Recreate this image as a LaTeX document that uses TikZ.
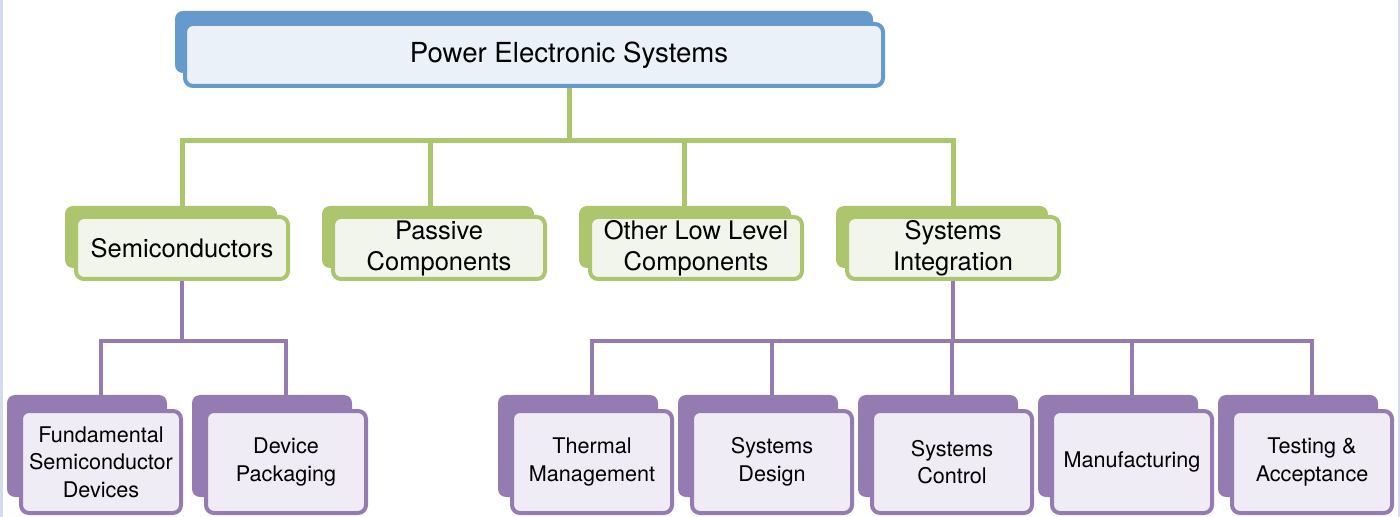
\documentclass[tikz,border=0pt]{standalone}
\usepackage{fontspec}
\setmainfont{TeX Gyre Heros}
\usetikzlibrary{positioning,shadows}
\definecolor{topblue}{RGB}{102,153,204}
\definecolor{topfill}{RGB}{234,241,248}
\definecolor{leafgreen}{RGB}{172,198,110}
\definecolor{greenfill}{RGB}{242,245,236}
\definecolor{lilac}{RGB}{148,124,178}
\definecolor{lilacfill}{RGB}{239,236,245}
\definecolor{edgeblue}{RGB}{212,218,240}
\begin{document}
\begin{tikzpicture}[
  x=0.5pt, y=-0.5pt,
  box/.style={draw, line width=2pt, rounded corners=4pt, align=center,
    inner sep=1pt},
  rootbox/.style={box, draw=topblue, fill=topfill,
    minimum width=349pt, minimum height=31pt,
    font=\fontsize{13.8}{16}\selectfont,
    general shadow={fill=topblue, shadow xshift=-5pt, shadow yshift=6.5pt}},
  midbox/.style={box, draw=leafgreen, fill=greenfill,
    minimum width=106pt, minimum height=31pt,
    font=\fontsize{12.75}{15.5}\selectfont,
    general shadow={fill=leafgreen, shadow xshift=-5.5pt, shadow yshift=5.5pt}},
  leafbox/.style={box, draw=lilac, fill=lilacfill,
    minimum width=80pt, minimum height=51pt,
    font=\fontsize{10.8}{13.8}\selectfont,
    general shadow={fill=lilac, shadow xshift=-7pt, shadow yshift=8pt}},
  gline/.style={draw=leafgreen, line width=2.5pt},
  pline/.style={draw=lilac, line width=2pt}
]
  \useasboundingbox (0,0) rectangle (1400,517);
  \fill[edgeblue] (0,0) rectangle (3,517);
  \fill[edgeblue] (1398,0) rectangle (1400,517);

  \node[rootbox] (root) at (534,55) {\hspace*{35pt}Power Electronic Systems};

  \node[midbox] (semi) at (182,248) {Semiconductors};
  \node[midbox, right=20.5pt of semi] (pass) {Passive\\Components};
  \node[midbox, right=20.5pt of pass] (other) {Other Low Level\\Components};
  \node[midbox, right=20.5pt of other] (sysint) {Systems\\Integration};

  \node[leafbox] (fund) at (101,462) {Fundamental\\Semiconductor\\Devices};
  \node[leafbox, right=10.5pt of fund] (pack) {Device\\Packaging};

  \node[leafbox] (therm) at (592,462) {Thermal\\Management};
  \node[leafbox, right=8pt of therm] (sysdes) {Systems\\Design};
  \node[leafbox, right=8pt of sysdes] (sysctl) {Systems\\Control};
  \node[leafbox, right=8pt of sysctl] (manuf) {Manufacturing};
  \node[leafbox, right=8pt of manuf] (test) {Testing \&\\Acceptance};

  % bus lines
  \coordinate (gbus) at (0,141);
  \coordinate (pbus) at (0,341);
  \coordinate (rootdrop) at ([xshift=17.5pt]root.south);
  \foreach \n/\s in {semi/0pt,pass/-4.5pt,other/-6pt,sysint/0pt}{
    \coordinate (\n top) at ([xshift=\s]\n.north);
    \draw[gline] (rootdrop) |- (\n top |- gbus) -- (\n top);
  }
  \foreach \n in {fund,pack}
    \draw[pline] (semi.south) |- (\n.north |- pbus) -- (\n.north);
  \foreach \n in {therm,sysdes,sysctl,manuf,test}
    \draw[pline] (sysint.south) |- (\n.north |- pbus) -- (\n.north);
\end{tikzpicture}
\end{document}
